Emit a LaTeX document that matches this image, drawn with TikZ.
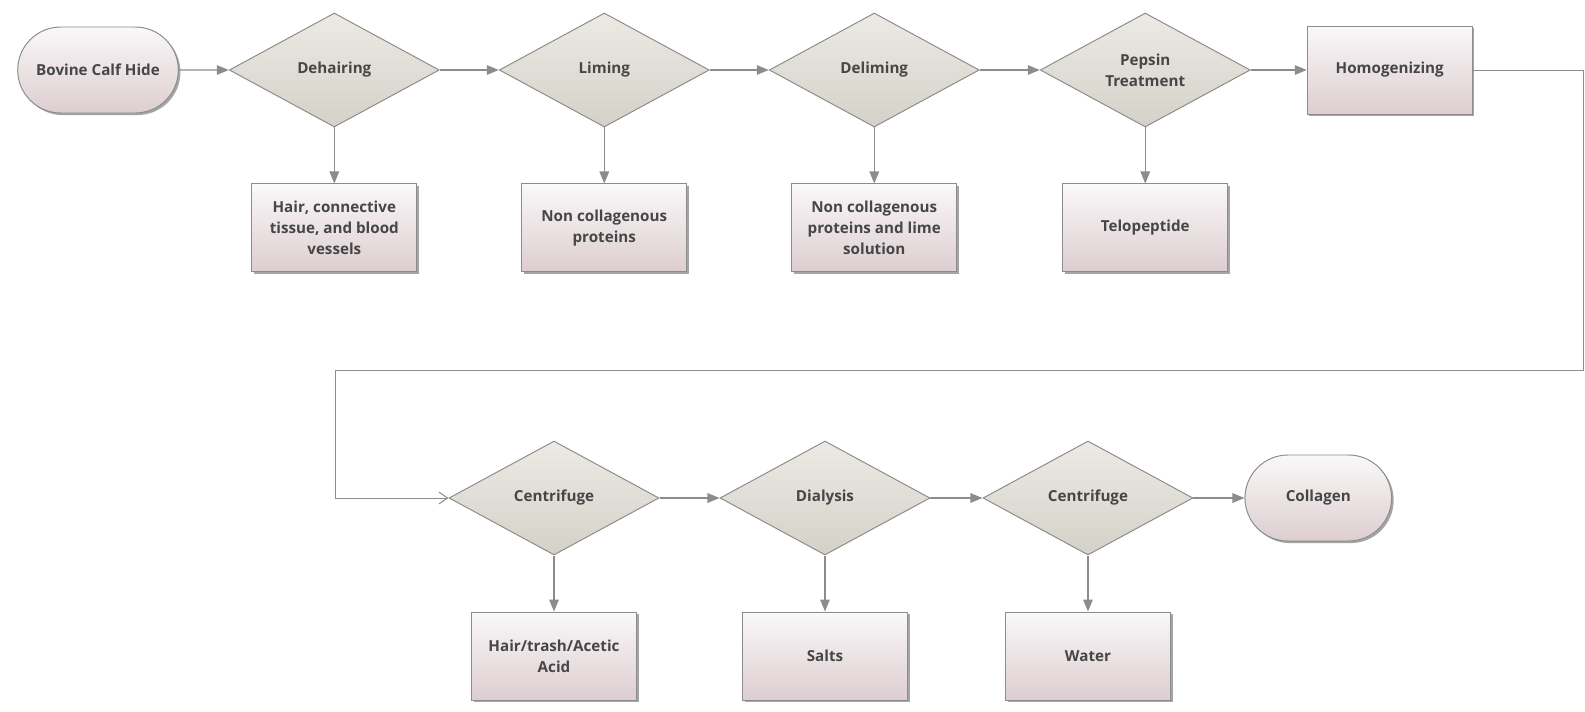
\documentclass[tikz,border=0pt]{standalone}
\usepackage{fontspec}
\setmainfont{Open Sans}
\usepackage{xcolor}
\usepackage{tikz}
\usetikzlibrary{shapes.geometric, shapes.misc, arrows.meta, positioning, calc, shadows}
\definecolor{flowgrey}{RGB}{140, 140, 140}
\definecolor{flowtext}{RGB}{70, 70, 70}
\definecolor{boxtop}{RGB}{250, 248, 248}
\definecolor{boxbottom}{RGB}{221, 205, 208}
\definecolor{diatop}{RGB}{236, 234, 228}
\definecolor{diabottom}{RGB}{212, 209, 200}

\begin{document}
\begin{tikzpicture}[node distance=1.4cm, auto,
        font=\fontsize{10.8}{15}\selectfont\bfseries, text=flowtext,
        block/.style={rectangle, draw=flowgrey, line width=0.7pt, top color=boxtop, bottom color=boxbottom, minimum width=4.125cm, minimum height=2.2cm, inner sep=2pt, align=center, drop shadow={shadow xshift=1.5pt, shadow yshift=-1.5pt, opacity=0.5, fill=black!70}},
        terminal/.style={rounded rectangle, draw=flowgrey, line width=0.7pt, top color=boxtop, bottom color=boxbottom, minimum height=2.15cm, align=center, drop shadow={shadow xshift=1.5pt, shadow yshift=-1.5pt, opacity=0.5, fill=black!70}},
        decision/.style={diamond, draw=flowgrey, line width=0.7pt, top color=diatop, bottom color=diabottom, minimum width=5.25cm, minimum height=2.85cm, inner sep=0pt, align=center},
        line/.style={draw=flowgrey, line width=0.8pt, -{Triangle[length=0.3cm, width=0.24cm]}},
        openline/.style={draw=flowgrey, line width=0.7pt, -{Straight Barb[length=0.22cm, width=0.3cm]}}]

        \useasboundingbox (0,0) rectangle (39.625,-17.775);

        % Nodes, first row
        \node [terminal, minimum width=4.25cm] (hide) at (2.45,-1.75) {Bovine Calf Hide};
        \node [decision, right=1.25cm of hide] (dehair) {Dehairing};
        \node [decision, right=1.475cm of dehair] (lime) {Liming};
        \node [decision, right=1.475cm of lime] (delime) {Deliming};
        \node [decision, right=1.5cm of delime] (pepsin) {Pepsin\\Treatment};
        \node [block, right=1.4cm of pepsin] (homog) {Homogenizing};

        \node [block, below=1.4cm of dehair] (hair) {Hair, connective\\tissue, and blood\\vessels};
        \node [block, below=1.4cm of lime] (noncol) {Non collagenous\\proteins};
        \node [block, below=1.4cm of delime] (noncollime) {Non collagenous\\proteins and lime\\solution};
        \node [block, below=1.4cm of pepsin] (telo) {Telopeptide};

        % Nodes, second row
        \node [decision] (cent1) at (13.85,-12.45) {Centrifuge};
        \node [decision, right=1.5cm of cent1] (dialysis) {Dialysis};
        \node [decision, right=1.3cm of dialysis] (cent2) {Centrifuge};
        \node [terminal, minimum width=3.9cm, right=1.275cm of cent2] (collagen) {Collagen};

        \node [block, below=1.4cm of cent1] (trash) {Hair/trash/Acetic\\Acid};
        \node [block, below=1.4cm of dialysis] (salts) {Salts};
        \node [block, below=1.4cm of cent2] (water) {Water};

        % Arrows
        \path [line] (hide) -- (dehair);
        \path [line] (dehair) -- (lime);
        \path [line] (lime) -- (delime);
        \path [line] (delime) -- (pepsin);
        \path [line] (pepsin) -- (homog);

        \path [line] (dehair) -- (hair);
        \path [line] (lime) -- (noncol);
        \path [line] (delime) -- (noncollime);
        \path [line] (pepsin) -- (telo);

        % Return to second row
        \coordinate [right=2.775cm of homog.east] (turn);
        \coordinate (back) at (8.375,-9.25);
        \path [openline] (homog.east) -- (turn) |- (back) |- (cent1.west);

        \path [line] (cent1) -- (dialysis);
        \path [line] (dialysis) -- (cent2);
        \path [line] (cent2) -- (collagen);

        \path [line] (cent1) -- (trash);
        \path [line] (dialysis) -- (salts);
        \path [line] (cent2) -- (water);
    \end{tikzpicture}
\end{document}
